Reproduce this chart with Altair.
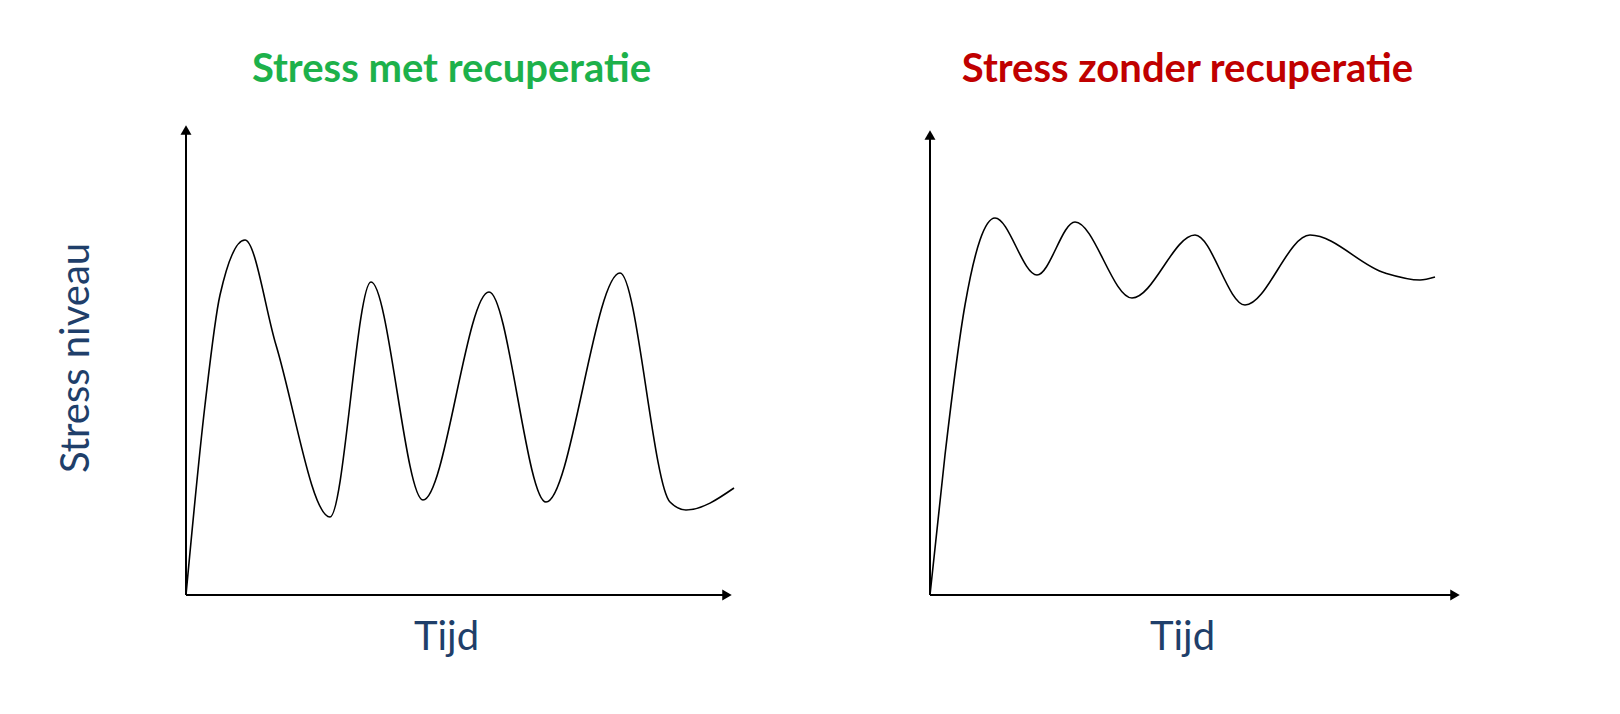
import altair as alt
import pandas as pd

# curve points (x = time offset, y = stress level)
met_x = [0, 19, 34, 59, 90, 144, 185, 237, 303, 360, 434, 484, 500, 548]
met_y = [0, 190, 300, 355, 250, 78, 313, 95, 303, 93, 322, 93, 85, 107]
zonder_x = [0, 15, 35, 50, 65, 107, 145, 202, 265, 315, 380, 455, 490, 505]
zonder_y = [0, 140, 290, 355, 377, 320, 373, 297, 360, 290, 360, 322, 315, 318]

XDOM = [-173, 560]
YDOM = [-90, 582]


def xs_(name="x"):
    return alt.X(f"{name}:Q", scale=alt.Scale(domain=XDOM), axis=None)


def ys_(name="y"):
    return alt.Y(f"{name}:Q", scale=alt.Scale(domain=YDOM), axis=None)


def panel(xs, ys, xmax, ymax, title, color, ylabel):
    curve = alt.Chart(pd.DataFrame({"x": xs, "y": ys})).mark_line(
        color="black", strokeWidth=1.6, interpolate="monotone"
    ).encode(x=xs_(), y=ys_())
    vaxis = alt.Chart(pd.DataFrame({"x": [0, 0], "y": [0, ymax]})).mark_line(
        color="black", strokeWidth=2
    ).encode(x=xs_(), y=ys_())
    haxis = alt.Chart(pd.DataFrame({"x": [0, xmax], "y": [0, 0]})).mark_line(
        color="black", strokeWidth=2
    ).encode(x=xs_(), y=ys_())
    up = alt.Chart(pd.DataFrame({"x": [0], "y": [ymax]})).mark_point(
        shape="triangle-up", filled=True, color="black", size=120, opacity=1
    ).encode(x=xs_(), y=ys_())
    right = alt.Chart(pd.DataFrame({"x": [xmax], "y": [0]})).mark_point(
        shape="triangle-right", filled=True, color="black", size=120, opacity=1
    ).encode(x=xs_(), y=ys_())
    head = alt.Chart(pd.DataFrame({"x": [(xmax - 30) / 2 + 10], "y": [525], "t": [title]})).mark_text(
        font="Lato", fontWeight="bold", fontSize=40, color=color
    ).encode(x=xs_(), y=ys_(), text="t:N")
    tijd = alt.Chart(pd.DataFrame({"x": [xmax / 2 - 10], "y": [-43], "t": ["Tijd"]})).mark_text(
        font="Lato", fontSize=40, color="#1f3f6a"
    ).encode(x=xs_(), y=ys_(), text="t:N")
    layers = [vaxis, haxis, up, right, curve, head, tijd]
    if ylabel:
        lab = alt.Chart(pd.DataFrame({"x": [-109], "y": [237], "t": [ylabel]})).mark_text(
            font="Lato", fontSize=40, color="#1f3f6a", angle=270
        ).encode(x=xs_(), y=ys_(), text="t:N")
        layers.append(lab)
    return alt.layer(*layers).properties(width=733, height=672)


left = panel(met_x, met_y, 541, 465, "Stress met recuperatie", "#1db14b", "Stress niveau")
rightp = panel(zonder_x, zonder_y, 525, 460, "Stress zonder recuperatie", "#c00000", None)

chart = alt.hconcat(left, rightp, spacing=11).configure_view(stroke=None)

chart.save("out.html", embed_options={"renderer": "svg", "actions": False})
